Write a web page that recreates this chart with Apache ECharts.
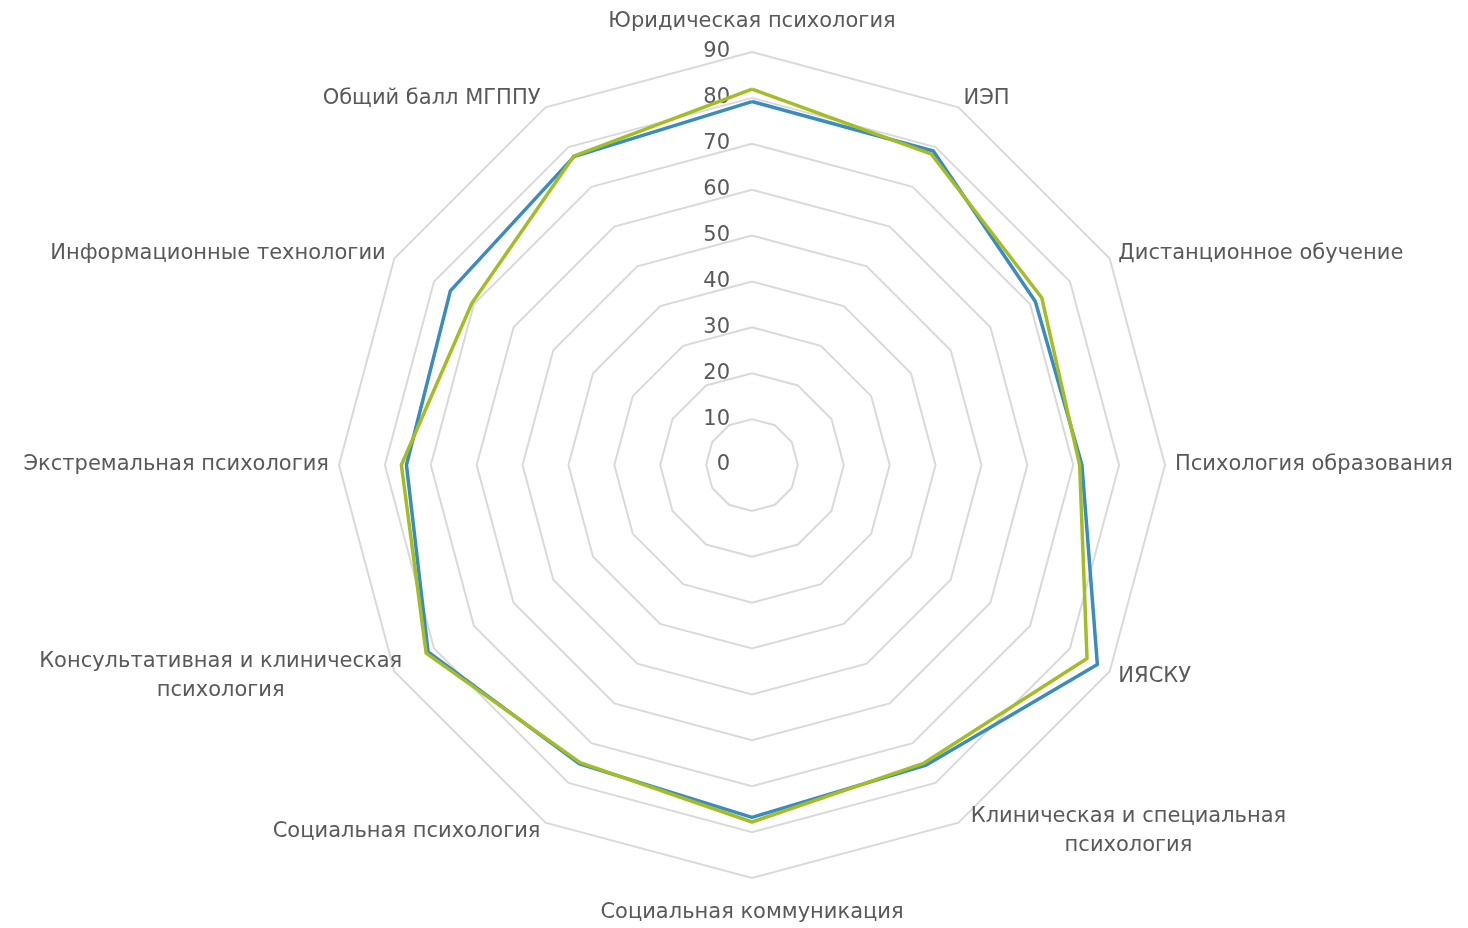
<!DOCTYPE html>
<html>
<head>
<meta charset="utf-8">
<title>Radar</title>
<script src="https://cdn.jsdelivr.net/npm/echarts@6/dist/echarts.min.js"></script>
<style>
html, body { margin: 0; padding: 0; background: #fff; }
#chart { width: 1468px; height: 928px; }
</style>
</head>
<body>
<div id="chart"></div>
<script>
// Оси (по часовой стрелке от верха)
var categories = [
	"Юридическая психология",
	"ИЭП",
	"Дистанционное обучение",
	"Психология образования",
	"ИЯСКУ",
	"Клиническая и специальная\nпсихология",
	"Социальная коммуникация",
	"Социальная психология",
	"Консультативная и клиническая\nпсихология",
	"Экстремальная психология",
	"Информационные технологии",
	"Общий балл МГППУ"
];
var seriesBlue = [79.2, 79.0, 71.3, 71.9, 86.9, 75.6, 76.8, 75.2, 81.5, 75.3, 75.9, 77.6];
var seriesGreen = [81.9, 78.2, 72.9, 71.4, 84.3, 75.0, 77.8, 74.9, 82.0, 76.4, 70.5, 77.7];
var tickMax = 90;
var tickStep = 10;

var textColor = '#595959';
var fontFam = 'DejaVu Sans, sans-serif';
var fontSize = 21;
var cx = 752, cy = 465, R = 413;

// radar в ECharts идёт против часовой — разворачиваем порядок (первый остаётся сверху)
function cw(arr) {
	return [arr[0]].concat(arr.slice(1).reverse());
}

var chart = echarts.init(document.getElementById('chart'));

chart.setOption({
	animation: false,
	grid: { left: cx, top: cy - R, width: 1, height: R },   // только для подписей шкалы
	xAxis: { type: 'value', show: false },
	yAxis: {
		type: 'value', min: 0, max: tickMax, interval: tickStep,
		axisLine: { show: false }, axisTick: { show: false }, splitLine: { show: false },
		axisLabel: { color: textColor, fontSize: 21, fontFamily: fontFam, margin: 22 }
	},
	radar: {
		center: [cx, cy],
		radius: R,
		startAngle: 90,
		shape: 'polygon',
		splitNumber: 9,
		indicator: cw(categories).map(function (n) { return { name: n, min: 0, max: tickMax }; }),
		axisName: {
			color: textColor, fontSize: fontSize, fontFamily: fontFam,
			formatter: function (v) {
				if (v === categories[0]) return '{t|' + v + '}';
				if (v === categories[6]) return '{b|' + v + '}';
				if (v.indexOf('\n') < 0) return v;
				return v.split('\n').map(function (s) { return '{c|' + s + '}'; }).join('\n');
			},
			rich: {
				c: { color: textColor, fontSize: fontSize, fontFamily: fontFam, width: 330, align: 'center', lineHeight: 29 },
				t: { color: textColor, fontSize: fontSize, fontFamily: fontFam, padding: [0, 0, 10, 0] },
				b: { color: textColor, fontSize: fontSize, fontFamily: fontFam, padding: [14, 0, 0, 0] }
			}
		},
		nameGap: 10,
		axisLine: { show: false },
		axisTick: { show: false },
		axisLabel: { show: false },
		splitArea: { show: false },
		splitLine: { lineStyle: { color: '#d9d9d9', width: 2 } }
	},
	series: [{
		type: 'radar',
		symbol: 'none',
		z: 3,
		data: [
			{ value: cw(seriesBlue), name: 'blue', lineStyle: { color: '#3a8cc0', width: 3.5 } },
			{ value: cw(seriesGreen), name: 'green', lineStyle: { color: '#a4bd24', width: 3.5 } }
		]
	}]
});
</script>
</body>
</html>
